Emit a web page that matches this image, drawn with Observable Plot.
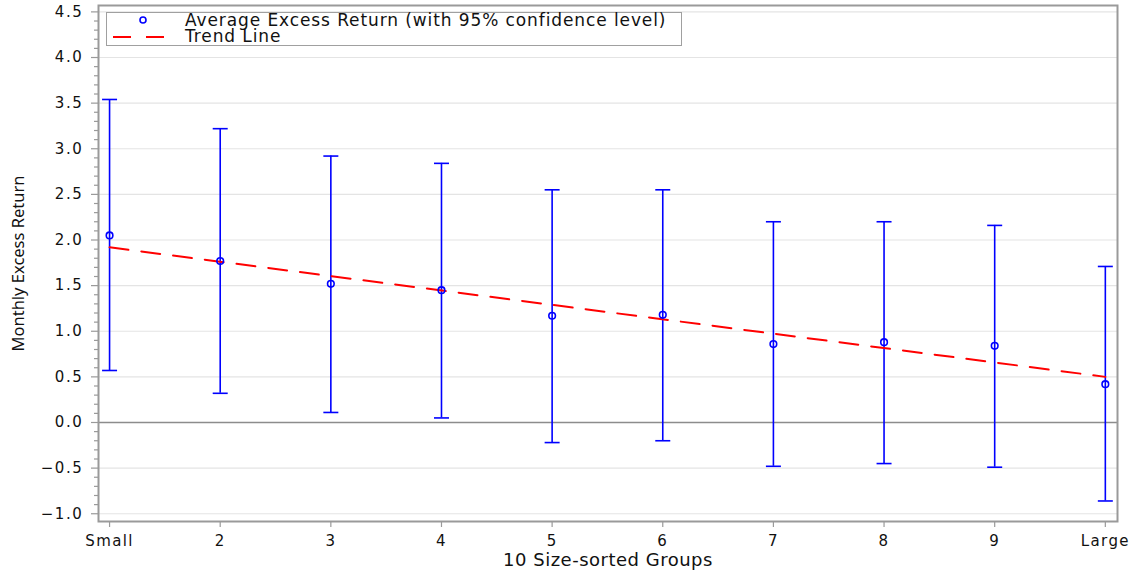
<!DOCTYPE html>
<html>
<head>
<meta charset="utf-8">
<script src="https://cdn.jsdelivr.net/npm/d3@7"></script>
<script src="https://cdn.jsdelivr.net/npm/@observablehq/plot@0.6"></script>
<style>
  html, body { margin: 0; padding: 0; background: #fff; }
  #wrap { position: relative; width: 1138px; height: 580px; font-family: "DejaVu Sans", sans-serif; }
  #legend { position: absolute; left: 106px; top: 12px; width: 576px; height: 34px; border: 1.5px solid #a0a0a0; background: #fff; box-sizing: border-box; }
  .lrow { position: absolute; left: 0; height: 17px; font-size: 17px; line-height: 17px; color: #111; letter-spacing: 0.9px; }
  .lrow svg { position: absolute; left: 0; top: 0; }
  .lrow span { position: absolute; left: 78px; top: -1px; white-space: nowrap; }
</style>
</head>
<body>
<div id="wrap"></div>
<script>
// ---- data ----
const groups = ["Small", "2", "3", "4", "5", "6", "7", "8", "9", "Large"];
const groupIndex = [1, 2, 3, 4, 5, 6, 7, 8, 9, 10];
const meanReturn = [2.05, 1.77, 1.52, 1.45, 1.17, 1.18, 0.86, 0.88, 0.84, 0.42];
const upperCI   = [3.54, 3.22, 2.92, 2.84, 2.55, 2.55, 2.20, 2.20, 2.16, 1.71];
const lowerCI   = [0.57, 0.32, 0.11, 0.05, -0.22, -0.20, -0.48, -0.45, -0.49, -0.86];
const trendX = [1, 10];
const trendY = [1.92, 0.50];
const yMajorTicks = [-1.0, -0.5, 0.0, 0.5, 1.0, 1.5, 2.0, 2.5, 3.0, 3.5, 4.0, 4.5];
const yMinorTicks = d3.range(-10, 46).map(i => i / 10).filter(v => Math.abs(v * 2 - Math.round(v * 2)) > 1e-6);

const rows = groupIndex.map((x, i) => ({x, label: groups[i], mean: meanReturn[i], lo: lowerCI[i], hi: upperCI[i]}));
const trend = trendX.map((x, i) => ({x, y: trendY[i]}));

const capSymbol = { draw(ctx) { ctx.moveTo(-7.5, 0); ctx.lineTo(7.5, 0); } };

const blue = "#0000ff";
const chart = Plot.plot({
  width: 1138,
  height: 580,
  marginLeft: 98,
  marginRight: 21,
  marginTop: 5,
  marginBottom: 59,
  style: { fontFamily: "DejaVu Sans, sans-serif", fontSize: "15px", color: "#111", background: "#fff" },
  x: { type: "linear", domain: [0.9, 10.11] },
  y: { domain: [-1.085, 4.57] },
  marks: [
    Plot.gridY(yMajorTicks, { stroke: "#e4e4e4", strokeOpacity: 1, strokeWidth: 1.2 }),
    Plot.ruleY([0], { stroke: "#8c8c8c", strokeWidth: 1.3 }),
    Plot.ruleX(rows, { x: "x", y1: "lo", y2: "hi", stroke: blue, strokeWidth: 1.6 }),
    Plot.dot(rows, { x: "x", y: "hi", symbol: capSymbol, stroke: blue, strokeWidth: 1.6, r: 3 }),
    Plot.dot(rows, { x: "x", y: "lo", symbol: capSymbol, stroke: blue, strokeWidth: 1.6, r: 3 }),
    Plot.line(trend, { x: "x", y: "y", stroke: "#ff0000", strokeWidth: 2, strokeDasharray: "19,13" }),
    Plot.dot(rows, { x: "x", y: "mean", r: 3.3, stroke: blue, strokeWidth: 1.6, fill: "none" }),
    Plot.frame({ stroke: "#9a9a9a", strokeWidth: 2 }),
    Plot.axisY(yMinorTicks, { tickSize: 4, tickFormat: null, text: null, stroke: "#9a9a9a", strokeWidth: 1.2, label: null }),
    Plot.axisY(yMajorTicks, { tickSize: 7, tickPadding: 8, tickFormat: d3.format(".1f"), stroke: "#9a9a9a", strokeWidth: 1.2, fill: "#111", label: null, fontSize: 15 }),
    Plot.axisX(groupIndex, { tickSize: 6, tickPadding: 8, tickFormat: (d) => groups[groupIndex.indexOf(d)], stroke: "#9a9a9a", strokeWidth: 1.2, fill: "#111", label: null, fontSize: 15 }),
    Plot.text(["Monthly Excess Return"], { frameAnchor: "left", textAnchor: "middle", dx: -80, rotate: -90, fontSize: 16.5, fontFamily: "Noto Sans, sans-serif", fill: "#111" }),
    Plot.text(["10 Size-sorted Groups"], { frameAnchor: "bottom", textAnchor: "middle", dy: 44, fontSize: 18, fill: "#111" })
  ]
});

// widen tick labels slightly to match the reference's wide lettering
d3.select(chart).selectAll("g[aria-label='y-axis tick label'] text").attr("letter-spacing", "1.6px");
d3.select(chart).selectAll("g[aria-label='x-axis tick label'] text").attr("letter-spacing", "1.4px");
d3.select(chart).selectAll("g[aria-label='text'] text").filter(function () { return this.textContent === "10 Size-sorted Groups"; }).attr("letter-spacing", "0.5px");

const wrap = document.getElementById("wrap");
wrap.appendChild(chart);

// legend overlay
const legend = document.createElement("div");
legend.id = "legend";
legend.innerHTML = `
  <div class="lrow" style="top:0px; width:570px;">
    <svg width="70" height="17"><circle cx="36" cy="7" r="3" fill="none" stroke="${blue}" stroke-width="1.6"/></svg>
    <span>Average Excess Return (with 95% confidence level)</span>
  </div>
  <div class="lrow" style="top:16px; width:570px;">
    <svg width="70" height="17"><line x1="6" x2="60" y1="8" y2="8" stroke="#ff0000" stroke-width="2" stroke-dasharray="18,15"/></svg>
    <span>Trend Line</span>
  </div>`;
wrap.appendChild(legend);
</script>
</body>
</html>
